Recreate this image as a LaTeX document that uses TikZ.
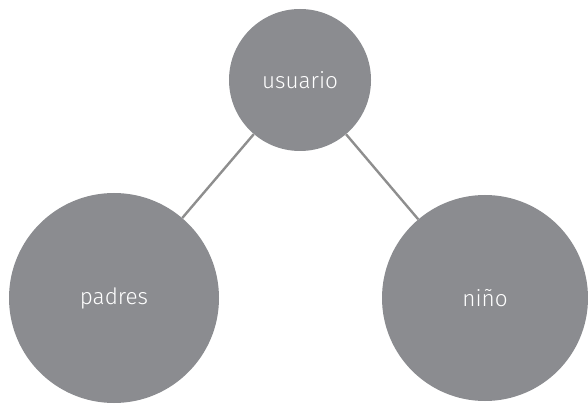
\documentclass[tikz,border=0pt]{standalone}
\usepackage{fontspec}
\setmainfont{Fira Sans}[UprightFont=* Light]
\usepackage{tikz}

\definecolor{bubblegray}{HTML}{8B8C90}
\definecolor{linkgray}{HTML}{8E8E8E}
\tikzset{
  bubble/.style={circle, fill=bubblegray, inner sep=0pt, text=white,
    font=\fontsize{22.5}{26}\selectfont},
  link/.style={draw=linkgray, line width=2.4pt}
}

\begin{document}
\begin{tikzpicture}[x=1pt,y=1pt]
      \useasboundingbox (0,0) rectangle (588,404);
      \node[bubble, minimum size=142pt] (usuario) at (300,324) {usuario};
      \node[bubble, minimum size=210pt] (padres) at (114,106) {padres};
      \node[bubble, minimum size=206pt] (nino) at (485,106) {niño};
      \draw[link] (usuario) -- (padres);
      \draw[link] (usuario) -- (nino);
      % \draw[very thin,color=gray] (0,0) grid[step=50] (588,404);
    \end{tikzpicture}
\end{document}
